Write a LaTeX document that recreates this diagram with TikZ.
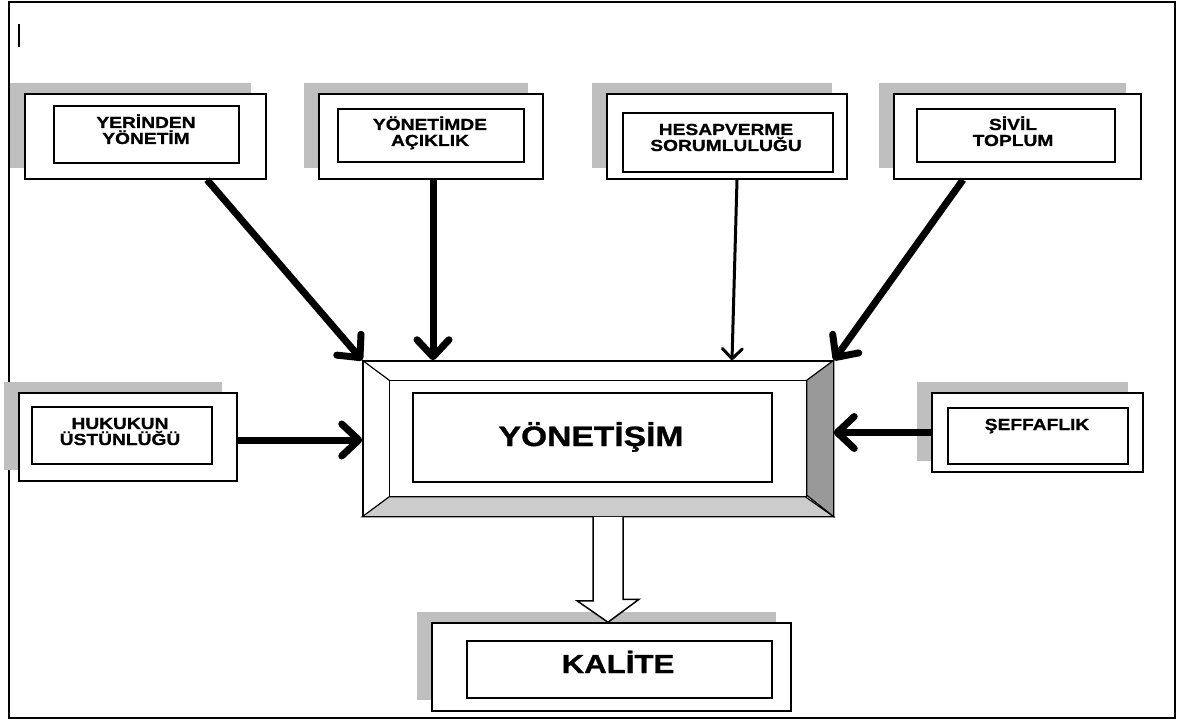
\documentclass[tikz,border=0pt]{standalone}
\usepackage{fontspec}
\usetikzlibrary{arrows.meta,shadows,calc}
\newfontfamily\etiket{Liberation Sans Bold}[FakeStretch=1.2, FakeBold=1]

\tikzset{
  golge/.style={general shadow={fill=gray!50, draw=none, shadow xshift=-15pt, shadow yshift=11pt}},
  dis/.style={draw, fill=white, line width=1.5pt, inner sep=0pt, golge},
  ic/.style={draw, line width=1.5pt, inner sep=0pt},
  yazi/.style={font=\etiket\fontsize{16}{16}\selectfont, align=center, text width=200pt, anchor=base},
  buyukyazi/.style={font=\etiket\fontsize{#1}{#1}\selectfont, anchor=base},
  kalin/.style={line width=7pt, -{Straight Barb[length=17pt, width=32pt, round]}},
  ince/.style={line width=3pt, -{Straight Barb[length=10pt, width=20pt, round]}}
}

\begin{document}
\begin{tikzpicture}[x=1pt, y=-1pt]

  \useasboundingbox (0,0) rectangle (1180,722);
  \draw[line width=2pt] (9,2) rectangle (1175,718);
  \draw[line width=1.2pt] (19,24) -- (19,47);

  %% ust kutular
  \node[dis, minimum width=241pt, minimum height=85pt] (yerinden) at (145.5,136.5) {};
  \node[ic, minimum width=185pt, minimum height=57pt] (yerinden-ic) at (146.5,134.5) {};
  \node[yazi] (yerinden-yazi) at (146,128) {YERİNDEN\\YÖNETİM};

  \node[dis, minimum width=224pt, minimum height=85pt] (acik) at (431,136.5) {};
  \node[ic, minimum width=186pt, minimum height=53pt] (acik-ic) at (431,135.5) {};
  \node[yazi] (acik-yazi) at (430,130) {YÖNETİMDE\\AÇIKLIK};

  \node[dis, minimum width=240pt, minimum height=85pt] (hesap) at (727,136.5) {};
  \node[ic, minimum width=210pt, minimum height=59pt] (hesap-ic) at (728,142.5) {};
  \node[yazi] (hesap-yazi) at (726,135) {HESAPVERME\\SORUMLULUĞU};

  \node[dis, minimum width=247pt, minimum height=85pt] (sivil) at (1017.5,136.5) {};
  \node[ic, minimum width=198pt, minimum height=53pt] (sivil-ic) at (1016,135.5) {};
  \node[yazi] (sivil-yazi) at (1013,130) {SİVİL\\TOPLUM};

  %% yan kutular
  \node[dis, minimum width=218pt, minimum height=88pt] (hukuk) at (128,437) {};
  \node[ic, minimum width=180pt, minimum height=57pt] (hukuk-ic) at (122,435.5) {};
  \node[yazi] (hukuk-yazi) at (120,429) {HUKUKUN\\ÜSTÜNLÜĞÜ};

  \node[dis, minimum width=211pt, minimum height=79pt] (seffaf) at (1037.5,432.5) {};
  \node[ic, minimum width=180pt, minimum height=56pt] (seffaf-ic) at (1038,436) {};
  \node[yazi] (seffaf-yazi) at (1037,430) {ŞEFFAFLIK};

  %% orta kutu
  \node[draw, fill=white, line width=1.5pt, minimum width=470pt, minimum height=155pt] (yon) at (598,438.5) {};
  \filldraw[fill=gray!40, line width=1.2pt] (yon.south west) -- ++(27,-20) -- ++(416,0) -- (yon.south east) -- cycle;
  \filldraw[fill=gray!80, line width=1.2pt] (yon.north east) -- ++(-27,20) -- ++(0,115) -- (yon.south east) -- cycle;
  \draw[line width=1.2pt] (yon.north west) -- ++(27,20);
  \draw[line width=1.2pt] ([shift={(27,20)}]yon.north west) rectangle ([shift={(-27,-20)}]yon.south east);
  \node[ic, minimum width=359pt, minimum height=89pt] (yon-ic) at (592.5,437.5) {};
  \node[buyukyazi=28] (yon-yazi) at (591,446) {YÖNETİŞİM};

  %% alt kutu
  \node[dis, minimum width=359pt, minimum height=88pt] (kalite) at (611.5,667) {};
  \node[ic, minimum width=305pt, minimum height=57pt] (kalite-ic) at (619.5,669.5) {};
  \node[buyukyazi=26] (kalite-yazi) at (618,673) {KALİTE};

  %% oklar
  \draw[kalin] ([xshift=61.5pt]yerinden.south) -- (yon.north west); % yerinden -> yon
  \draw[kalin] ([xshift=2pt]acik.south) -- ([xshift=-165pt]yon.north); % acik -> yon
  \draw[ince] ([xshift=10pt]hesap.south) -- ([xshift=134pt]yon.north); % hesap -> yon
  \draw[kalin] ([xshift=-54.5pt]sivil.south) -- (yon.north east); % sivil -> yon
  \draw[kalin] ([yshift=-3pt]hukuk.east) -- ([yshift=-3pt]hukuk.east -| yon.west); % hukuk -> yon
  \draw[kalin] (seffaf.west) -- (seffaf.west -| yon.east); % seffaf -> yon

  % bos ok
  \draw[line width=1.5pt, fill=white] ([xshift=-5pt]yon.south) -- ++(0,84) -- ++(-16,0)
    -- ([xshift=-3.5pt]kalite.north) -- ++(31,-23) -- ++(-16,0) -- ([xshift=25pt]yon.south);

\end{tikzpicture}
\end{document}
